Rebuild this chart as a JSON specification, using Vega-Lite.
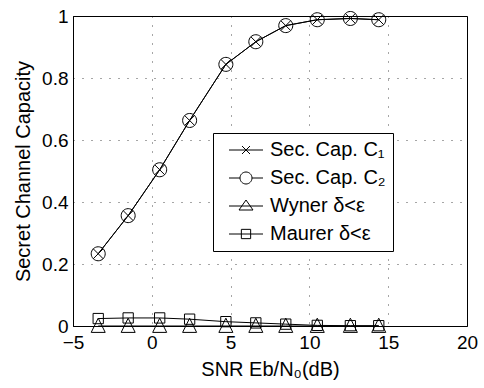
{
  "$schema": "https://vega.github.io/schema/vega-lite/v6.json",
  "autosize": "none",
  "width": 394,
  "height": 310,
  "padding": {"left": 73, "top": 16, "right": 17, "bottom": 62},
  "background": "white",
  "config": {
    "font": "Liberation Sans",
    "view": {"stroke": "black", "strokeWidth": 1},
    "axis": {
      "domainColor": "black",
      "grid": true,
      "gridColor": "black",
      "gridOpacity": 0.7,
      "gridDash": [1, 8],
      "ticks": false,
      "labelColor": "black",
      "titleColor": "black",
      "labelFontSize": 19,
      "titleFontSize": 20,
      "titleFontWeight": "normal",
      "labelFont": "Liberation Sans",
      "titleFont": "Liberation Sans"
    }
  },
  "data": {
    "values": [
      {"x": -3.4, "y": 0.233, "s": "Sec. Cap. C₁"},
      {"x": -1.5, "y": 0.356, "s": "Sec. Cap. C₁"},
      {"x": 0.5, "y": 0.504, "s": "Sec. Cap. C₁"},
      {"x": 2.4, "y": 0.663, "s": "Sec. Cap. C₁"},
      {"x": 4.7, "y": 0.844, "s": "Sec. Cap. C₁"},
      {"x": 6.6, "y": 0.917, "s": "Sec. Cap. C₁"},
      {"x": 8.5, "y": 0.969, "s": "Sec. Cap. C₁"},
      {"x": 10.5, "y": 0.988, "s": "Sec. Cap. C₁"},
      {"x": 12.6, "y": 0.992, "s": "Sec. Cap. C₁"},
      {"x": 14.4, "y": 0.988, "s": "Sec. Cap. C₁"},
      {"x": -3.4, "y": 0.233, "s": "Sec. Cap. C₂"},
      {"x": -1.5, "y": 0.356, "s": "Sec. Cap. C₂"},
      {"x": 0.5, "y": 0.504, "s": "Sec. Cap. C₂"},
      {"x": 2.4, "y": 0.663, "s": "Sec. Cap. C₂"},
      {"x": 4.7, "y": 0.844, "s": "Sec. Cap. C₂"},
      {"x": 6.6, "y": 0.917, "s": "Sec. Cap. C₂"},
      {"x": 8.5, "y": 0.969, "s": "Sec. Cap. C₂"},
      {"x": 10.5, "y": 0.988, "s": "Sec. Cap. C₂"},
      {"x": 12.6, "y": 0.992, "s": "Sec. Cap. C₂"},
      {"x": 14.4, "y": 0.988, "s": "Sec. Cap. C₂"},
      {"x": -3.4, "y": 0, "s": "Wyner δ<ε"},
      {"x": -1.5, "y": 0, "s": "Wyner δ<ε"},
      {"x": 0.5, "y": 0, "s": "Wyner δ<ε"},
      {"x": 2.4, "y": 0, "s": "Wyner δ<ε"},
      {"x": 4.7, "y": 0, "s": "Wyner δ<ε"},
      {"x": 6.6, "y": 0, "s": "Wyner δ<ε"},
      {"x": 8.5, "y": 0, "s": "Wyner δ<ε"},
      {"x": 10.5, "y": 0, "s": "Wyner δ<ε"},
      {"x": 12.6, "y": 0, "s": "Wyner δ<ε"},
      {"x": 14.4, "y": 0, "s": "Wyner δ<ε"},
      {"x": -3.4, "y": 0.024, "s": "Maurer δ<ε"},
      {"x": -1.5, "y": 0.026, "s": "Maurer δ<ε"},
      {"x": 0.5, "y": 0.026, "s": "Maurer δ<ε"},
      {"x": 2.4, "y": 0.022, "s": "Maurer δ<ε"},
      {"x": 4.7, "y": 0.014, "s": "Maurer δ<ε"},
      {"x": 6.6, "y": 0.01, "s": "Maurer δ<ε"},
      {"x": 8.5, "y": 0.006, "s": "Maurer δ<ε"},
      {"x": 10.5, "y": 0.002, "s": "Maurer δ<ε"},
      {"x": 12.6, "y": 0.001, "s": "Maurer δ<ε"},
      {"x": 14.4, "y": 0.001, "s": "Maurer δ<ε"}
    ]
  },
  "encoding": {
    "x": {
      "field": "x", "type": "quantitative",
      "scale": {"domain": [-5, 20], "nice": false, "zero": false},
      "axis": {"values": [-5, 0, 5, 10, 15, 20], "labelFlush": false, "labelOverlap": false, "labelPadding": 7, "title": "SNR Eb/N₀(dB)", "titlePadding": 7}
    },
    "y": {
      "field": "y", "type": "quantitative",
      "scale": {"domain": [0, 1], "nice": false},
      "axis": {"values": [0, 0.2, 0.4, 0.6, 0.8, 1], "format": "~g", "labelPadding": 5, "title": "Secret Channel Capacity", "titlePadding": 8}
    }
  },
  "layer": [
    {
      "mark": {"type": "line", "color": "black", "strokeWidth": 1},
      "encoding": {"detail": {"field": "s"}}
    },
    {
      "mark": {"type": "point", "filled": false, "color": "black", "strokeWidth": 1, "opacity": 1, "size": 100},
      "encoding": {
        "shape": {
          "field": "s", "type": "nominal",
          "scale": {
            "domain": ["Sec. Cap. C₁", "Sec. Cap. C₂", "Wyner δ<ε", "Maurer δ<ε"],
            "range": [
              "M-1,-1L1,1M-1,1L1,-1",
              "M-1.4,0A1.4,1.4 0 1,0 1.4,0A1.4,1.4 0 1,0 -1.4,0Z",
              "M0,-1.56L1.4,1.28L-1.4,1.28Z",
              "M-1.03,-1.03H1.03V1.03H-1.03Z"
            ]
          },
          "legend": null
        }
      }
    },
    {
      "transform": [{"filter": "false"}],
      "mark": {"type": "point", "filled": false, "color": "black", "strokeWidth": 1, "opacity": 1, "size": 100},
      "encoding": {
        "shape": {
          "field": "s", "type": "nominal",
          "scale": {
            "domain": ["Sec. Cap. C₁", "Sec. Cap. C₂", "Wyner δ<ε", "Maurer δ<ε"],
            "range": [
              "M-3.4,0H3.4M-0.8,-0.8L0.8,0.8M-0.8,0.8L0.8,-0.8",
              "M-3.4,0H-1.2M1.2,0H3.4M-1.2,0A1.2,1.2 0 1,0 1.2,0A1.2,1.2 0 1,0 -1.2,0Z",
              "M-3.4,0H3.4M0,-1.2L1.4,0.8L-1.4,0.8Z",
              "M-3.4,0H3.4M-0.93,-0.93H0.93V0.93H-0.93Z"
            ]
          },
          "legend": {
            "title": null,
            "orient": "none",
            "legendX": 140,
            "legendY": 117,
            "fillColor": "white",
            "strokeColor": "black",
            "padding": 7,
            "rowPadding": 8,
            "symbolSize": 100,
            "symbolStrokeColor": "black",
            "symbolStrokeWidth": 1,
            "symbolFillColor": "transparent",
            "labelFontSize": 20,
            "labelFont": "Liberation Sans",
            "labelColor": "black",
            "symbolOffset": 16,
            "labelOffset": 14,
            "labelExpr": "datum.label + '\u00a0\u00a0\u00a0\u00a0'"
          }
        }
      }
    }
  ],
  "resolve": {"scale": {"shape": "independent"}, "legend": {"shape": "independent"}}
}
